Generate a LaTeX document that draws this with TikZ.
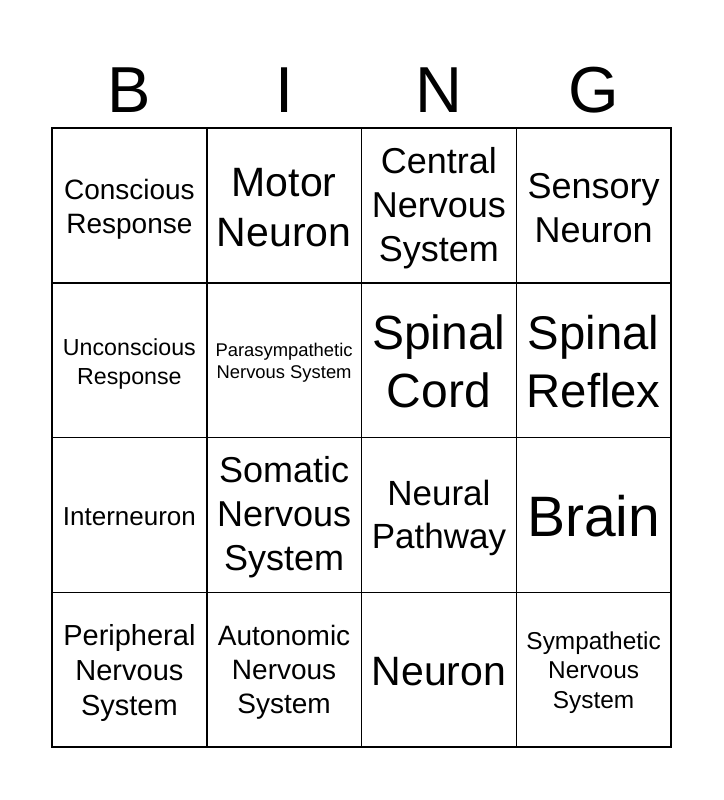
\documentclass[tikz,border=0pt]{standalone}
\usepackage{fontspec}
\setmainfont{Liberation Sans}
\newcommand{\fs}[2]{\fontsize{#1}{#2}\selectfont}
\begin{document}
\begin{tikzpicture}[x=1pt,y=-1pt,
  cell/.style={align=center,inner sep=0pt},
  letter/.style={anchor=base,inner sep=0pt,font=\fs{65}{70}}]
\useasboundingbox (0,0) rectangle (723,800);
\fill[white] (0,0) rectangle (723,800);
% header
\node[letter] (lb) at (129.4,112.7) {B};
\node[letter] (li) at (284.1,112.7) {I};
\node[letter] (ln) at (438.9,112.7) {N};
\node[letter] (lg) at (593.6,112.7) {G};
% grid
\draw[line width=1.8pt] (52,128) rectangle (671,747);
\foreach \x in {206.75,361.5,516.25} \draw[line width=1.5pt] (\x,128) -- (\x,747);
\foreach \y in {282.75,437.5,592.25} \draw[line width=1.5pt] (52,\y) -- (671,\y);
% row 1
\node[cell,font=\fs{28}{34}] (c11) at (129.4,209) {Conscious\\Response};
\node[cell,font=\fs{41}{50}] (c12) at (284.1,208) {Motor\\Neuron};
\node[cell,font=\fs{36}{44}] (c13) at (438.9,208.5) {Central\\Nervous\\System};
\node[cell,font=\fs{36}{44}] (c14) at (593.6,208) {Sensory\\Neuron};
% row 2
\node[cell,font=\fs{23.2}{29}] (c21) at (129.4,363.5) {Unconscious\\Response};
\node[cell,font=\fs{18.4}{22}] (c22) at (284.1,363) {Parasympathetic\\Nervous System};
\node[cell,font=\fs{48}{58}] (c23) at (438.9,361.5) {Spinal\\Cord};
\node[cell,font=\fs{47.3}{58}] (c24) at (593.6,361.5) {Spinal\\Reflex};
% row 3
\node[cell,font=\fs{26}{31}] (c31) at (129.4,517) {Interneuron};
\node[cell,font=\fs{36}{44}] (c32) at (284.1,517.5) {Somatic\\Nervous\\System};
\node[cell,font=\fs{35}{43}] (c33) at (438.9,518) {Neural\\Pathway};
\node[cell,font=\fs{57}{64}] (c34) at (593.6,516) {Brain};
% row 4
\node[cell,font=\fs{29}{35}] (c41) at (129.4,673) {Peripheral\\Nervous\\System};
\node[cell,font=\fs{28}{34}] (c42) at (284.1,672.5) {Autonomic\\Nervous\\System};
\node[cell,font=\fs{41}{50}] (c43) at (438.9,671.5) {Neuron};
\node[cell,font=\fs{24.4}{29.5}] (c44) at (593.6,672.5) {Sympathetic\\Nervous\\System};
\end{tikzpicture}
\end{document}
